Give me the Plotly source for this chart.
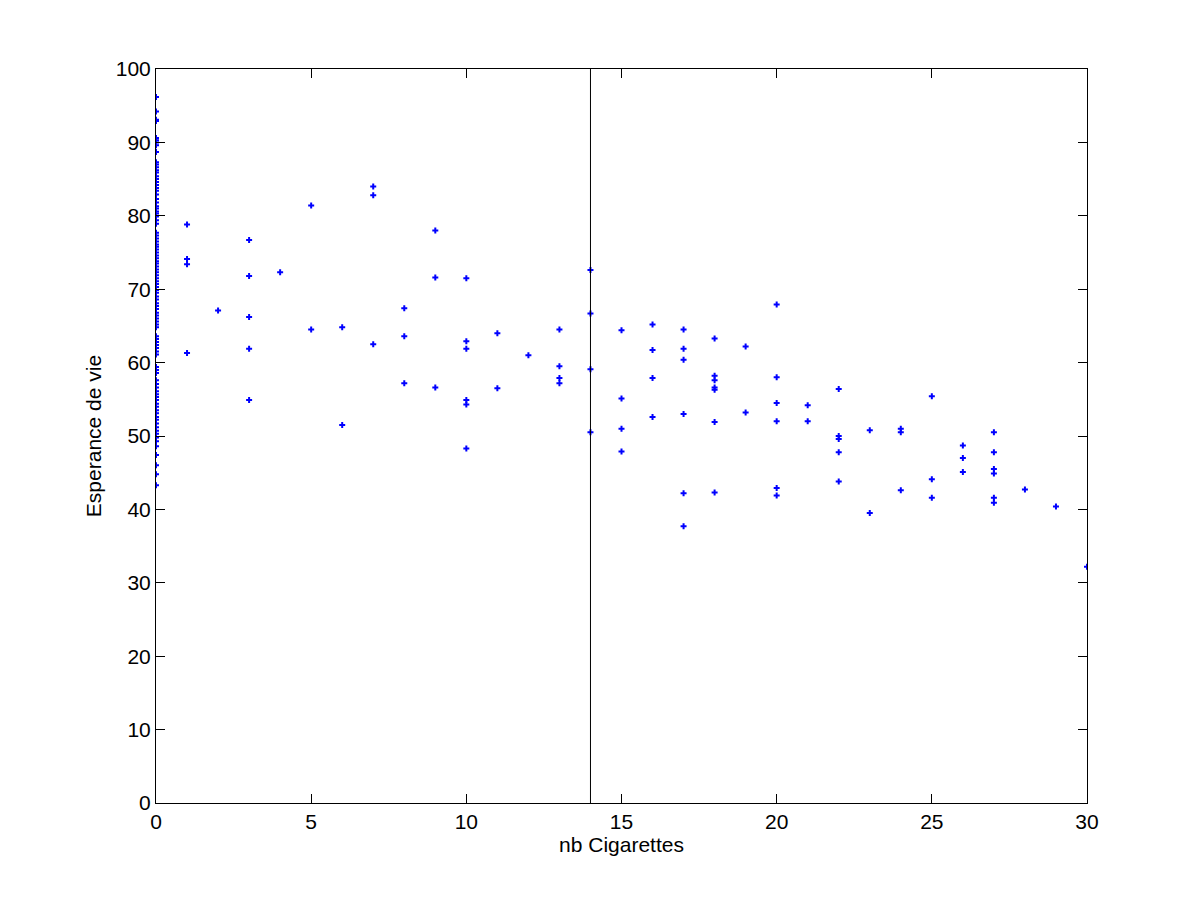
import plotly.graph_objects as go

# non-smokers (0 cigarettes)
y_zero = [96.2, 94.2, 93.1, 92.9, 90.6, 90.3, 90.0, 89.6, 88.7, 87.3, 87.0, 86.6,
          86.2, 85.9, 85.4, 85.0, 84.6, 84.2, 83.8, 83.4, 82.9, 82.3, 81.8, 81.3,
          81.0, 80.6, 80.3, 79.9, 79.4, 78.9, 77.7, 77.3, 76.9, 76.5, 76.1, 75.8,
          75.4, 75.0, 74.6, 74.2, 73.8, 73.5, 73.1, 72.7, 72.3, 71.9, 71.5, 71.1,
          70.7, 70.3, 69.9, 69.5, 69.0, 68.6, 68.1, 67.7, 67.3, 66.8, 66.4, 66.0,
          65.6, 65.2, 64.8, 63.6, 63.2, 62.8, 62.4, 62.0, 61.5, 61.1, 59.4, 59.0,
          58.6, 57.6, 57.1, 56.6, 56.1, 55.7, 55.3, 54.9, 54.4, 54.0, 53.5, 53.1,
          52.6, 52.2, 51.7, 51.2, 50.7, 50.3, 49.8, 49.3, 48.6, 47.4, 46.0, 44.8, 43.3]

# smokers
cig = [1, 1, 1, 1,
       2,
       3, 3, 3, 3, 3,
       4,
       5, 5,
       6, 6,
       7, 7, 7,
       8, 8, 8,
       9, 9, 9,
       10, 10, 10, 10, 10, 10,
       11, 11,
       12,
       13, 13, 13, 13,
       14, 14, 14, 14,
       15, 15, 15, 15,
       16, 16, 16, 16,
       17, 17, 17, 17, 17, 17,
       18, 18, 18, 18, 18, 18, 18,
       19, 19,
       20, 20, 20, 20, 20, 20,
       21, 21,
       22, 22, 22, 22, 22,
       23, 23,
       24, 24, 24,
       25, 25, 25,
       26, 26, 26,
       27, 27, 27, 27, 27, 27,
       28, 29, 30]
esp = [78.8, 74.1, 73.4, 61.3,
       67.1,
       76.7, 71.8, 66.2, 61.9, 54.9,
       72.3,
       81.4, 64.5,
       64.8, 51.5,
       84.0, 82.8, 62.5,
       67.4, 63.6, 57.2,
       78.0, 71.6, 56.6,
       71.5, 62.9, 61.9, 54.9, 54.3, 48.3,
       64.0, 56.5,
       61.0,
       64.5, 59.5, 57.9, 57.2,
       72.6, 66.7, 59.1, 50.5,
       64.4, 55.1, 51.0, 47.9,
       65.2, 61.7, 57.9, 52.6,
       64.5, 61.9, 60.4, 53.0, 42.2, 37.7,
       63.3, 58.2, 57.6, 56.6, 56.3, 51.9, 42.3,
       62.2, 53.2,
       67.9, 58.0, 54.5, 52.0, 42.9, 41.9,
       54.2, 52.0,
       56.4, 50.0, 49.6, 47.8, 43.8,
       50.8, 39.5,
       51.0, 50.5, 42.6,
       55.4, 44.1, 41.6,
       48.7, 47.0, 45.1,
       50.5, 47.8, 45.5, 44.9, 41.6, 40.9,
       42.7, 40.4, 32.2]

split_x = 14
y_range = [0, 100]

fig = go.Figure()
fig.add_trace(go.Scatter(x=[0] * len(y_zero) + cig, y=y_zero + esp, mode="markers",
                         marker=dict(symbol="cross", size=5, color="#0000ff",
                                     line=dict(width=0)),
                         showlegend=False))
# separation line drawn over the points, as in the original
fig.add_trace(go.Scatter(x=[split_x, split_x], y=y_range, mode="lines",
                         line=dict(color="black", width=1), showlegend=False))

axis_style = dict(showline=True, linecolor="black", linewidth=1, mirror="ticks",
                  ticks="inside", ticklen=9, tickcolor="black", showgrid=False,
                  zeroline=False, layer="above traces",
                  tickfont=dict(size=21, color="black"))
fig.update_xaxes(range=[0, 30], tick0=0, dtick=5,
                 title=dict(text="nb Cigarettes", font=dict(size=21, color="black"), standoff=4),
                 **axis_style)
fig.update_yaxes(range=y_range, tick0=0, dtick=10,
                 title=dict(text="Esperance de vie", font=dict(size=21, color="black"), standoff=8),
                 **axis_style)
fig.update_layout(width=1200, height=900, plot_bgcolor="white", paper_bgcolor="white",
                  font=dict(family="Liberation Sans, Arial, sans-serif"),
                  margin=dict(l=148, r=121, t=61, b=105))
fig.write_html("out.html")
